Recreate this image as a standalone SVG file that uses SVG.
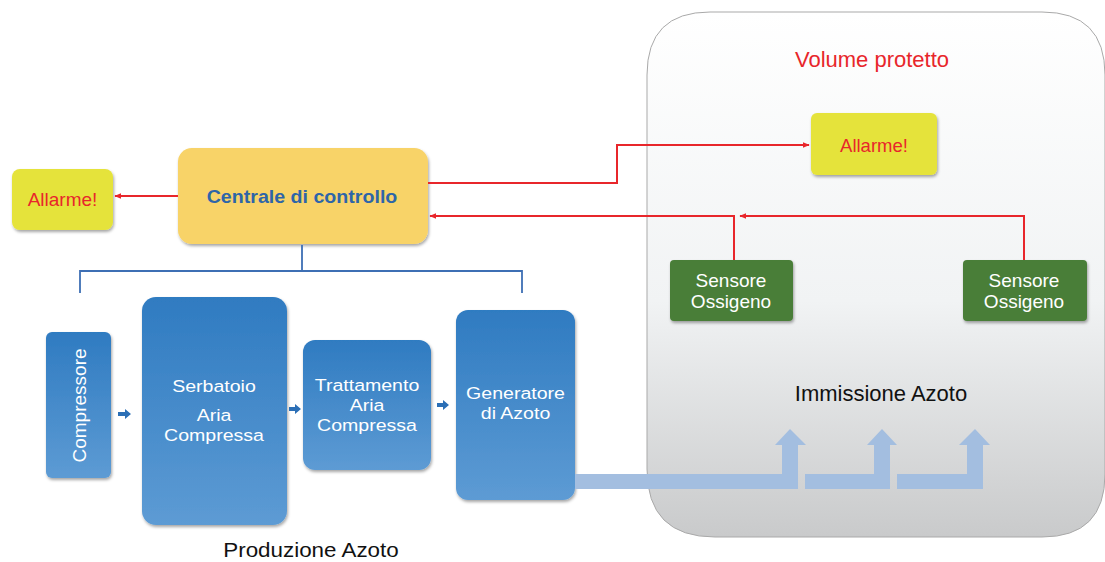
<svg xmlns="http://www.w3.org/2000/svg" width="1105" height="562" viewBox="0 0 1105 562">
<defs>
<linearGradient id="gPanel" x1="0" y1="0" x2="0" y2="1">
<stop offset="0" stop-color="#ffffff"/><stop offset="0.55" stop-color="#f1f3f4"/><stop offset="1" stop-color="#c9cacb"/>
</linearGradient>
<linearGradient id="gBlue" x1="0" y1="0" x2="0" y2="1">
<stop offset="0" stop-color="#2f7bc1"/><stop offset="1" stop-color="#5d9bd4"/>
</linearGradient>
<filter id="sh" x="-20%" y="-20%" width="140%" height="140%">
<feDropShadow dx="1" dy="2" stdDeviation="1.5" flood-color="#000" flood-opacity="0.35"/>
</filter>
<marker id="ar" viewBox="0 0 10 10" refX="9" refY="5" markerWidth="7" markerHeight="7" orient="auto-start-reverse" markerUnits="userSpaceOnUse">
<path d="M0,1 L10,5 L0,9 z" fill="#e8262b"/>
</marker>
<style>
text{font-family:"Liberation Sans",Arial,sans-serif;text-anchor:middle}
.w{fill:#ffffff;font-size:17px}
.wg{fill:#ffffff;font-size:19px}
.red{fill:#e8262b}
.blueBox{fill:url(#gBlue);filter:url(#sh)}
.green{fill:#4a7e37;filter:url(#sh)}
.yel{fill:#e5e33a;filter:url(#sh)}
.rl{fill:none;stroke:#e8262b;stroke-width:2}
.bl{fill:none;stroke:#3e6fb4;stroke-width:1.8}
.pipe{fill:#a3bee0}
.sa{fill:#2b6fb6}
</style>
</defs>

<g id="panel">
<path d="M710,12 H1042 Q1105,12 1105,75 V474 Q1105,537 1042,537 H715 Q647,537 647,469 V75 Q647,12 710,12 Z" fill="url(#gPanel)" stroke="#a9a9a9" stroke-width="1"/>
<text x="872" y="67" class="red" font-size="22">Volume protetto</text>
<text x="881" y="401" font-size="22" fill="#111">Immissione Azoto</text>
</g>

<g id="centrale">
<rect x="178" y="148" width="250" height="96" rx="14" fill="#f8d368" filter="url(#sh)"/>
<text transform="translate(302 0) scale(1.09 1)" x="0" y="203" font-size="18" font-weight="bold" fill="#2e65a8">Centrale di controllo</text>
</g>

<g id="allarme-left">
<rect x="12" y="169" width="101" height="61" rx="8" class="yel"/>
<text x="62.500" y="206" class="red" font-size="19">Allarme!</text>
</g>

<g id="allarme-right">
<rect x="811" y="113" width="126" height="62" rx="6" class="yel"/>
<text x="874" y="152" class="red" font-size="18.500">Allarme!</text>
</g>

<g id="sensore1">
<rect x="670" y="260" width="123" height="61" rx="4" class="green"/>
<text x="731" y="287" class="wg">Sensore</text>
<text x="731" y="308" class="wg">Ossigeno</text>
</g>

<g id="sensore2">
<rect x="963" y="260" width="124" height="61" rx="4" class="green"/>
<text x="1024" y="287" class="wg">Sensore</text>
<text x="1024" y="308" class="wg">Ossigeno</text>
</g>

<g id="compressore">
<rect x="46" y="332" width="65" height="146" rx="6" class="blueBox"/>
<text transform="translate(86,405.500) rotate(-90)" x="0" y="0" fill="#ffffff" font-size="19">Compressore</text>
</g>

<g id="serbatoio">
<rect x="142" y="297" width="145" height="228" rx="14" class="blueBox"/>
<g transform="translate(214 0) scale(1.15 1)">
<text x="0" y="392" class="w">Serbatoio</text>
<text x="0" y="421" class="w">Aria</text>
<text x="0" y="441" class="w">Compressa</text>
</g>
</g>

<g id="trattamento">
<rect x="303" y="340" width="128" height="130" rx="12" class="blueBox"/>
<g transform="translate(367 0) scale(1.15 1)">
<text x="0" y="391" class="w">Trattamento</text>
<text x="0" y="411" class="w">Aria</text>
<text x="0" y="431" class="w">Compressa</text>
</g>
</g>

<g id="generatore">
<rect x="456" y="310" width="119" height="190" rx="12" class="blueBox"/>
<g transform="translate(515.500 0) scale(1.15 1)">
<text x="0" y="399" class="w">Generatore</text>
<text x="0" y="419" class="w">di Azoto</text>
</g>
</g>

<g id="produzione-label">
<text transform="translate(311 0) scale(1.12 1)" x="0" y="557" font-size="20" fill="#111">Produzione Azoto</text>
</g>

<g id="connectors">
<path class="rl" d="M178,196 H115" marker-end="url(#ar)"/>
<path class="rl" d="M428,183 H617 V145 H809" marker-end="url(#ar)"/>
<path class="rl" d="M1024,260 V216 H740" marker-end="url(#ar)"/>
<path class="rl" d="M734,260 V216 H430" marker-end="url(#ar)"/>
<path class="bl" d="M302,245 V271 M80,293 V271 H522 V293"/>
<path class="sa" d="M118,412 H125 V409 L131,414 L125,419 V416 H118 Z"/>
<path class="sa" d="M289,407 H295 V404 L301,409 L295,414 V411 H289 Z"/>
<path class="sa" d="M437,403 H443 V400 L449,405 L443,410 V407 H437 Z"/>
<path class="pipe" d="M575,474 H782 V445 H775 L790,429 L806,445 H798 V489 H575 Z"/>
<path class="pipe" d="M805,474 H874 V445 H867 L882,429 L897,445 H890 V489 H805 Z"/>
<path class="pipe" d="M897,474 H967 V445 H959 L975,429 L990,445 H983 V489 H897 Z"/>
</g>
</svg>
